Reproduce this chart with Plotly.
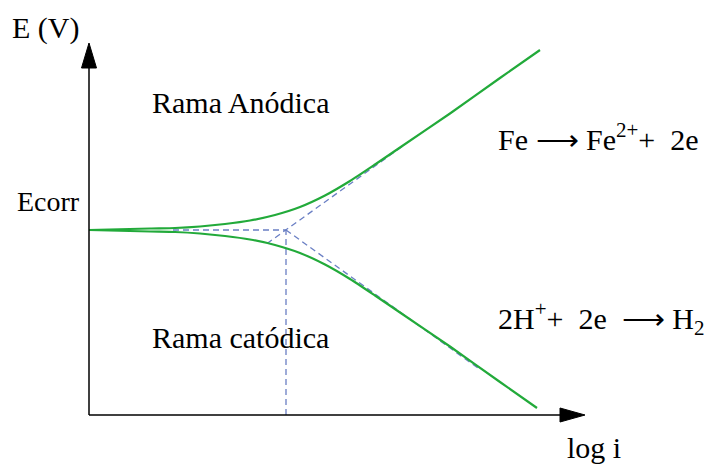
import plotly.graph_objects as go

# Evans diagram: potential E vs log i, in arbitrary units
log_i = [0.00, 1.22, 1.72, 2.22, 2.72, 3.22, 3.72, 4.22, 4.72, 5.22, 5.72, 6.22, 7.22, 8.22, 9.02]
E_anodic = [3.70, 3.73, 3.74, 3.77, 3.82, 3.89, 4.00, 4.16, 4.39, 4.68, 5.01, 5.35, 6.03, 6.74, 7.30]
log_i_cat = [0.00, 1.22, 1.72, 2.22, 2.72, 3.22, 3.72, 4.22, 4.72, 5.22, 5.72, 6.22, 7.22, 8.22, 8.96]
E_cathodic = [3.70, 3.67, 3.66, 3.63, 3.58, 3.51, 3.40, 3.24, 3.01, 2.72, 2.39, 2.05, 1.37, 0.66, 0.14]

# Corrosion point and Tafel extrapolations
E_corr = 3.70
log_icorr = 3.94
tafel_a_x = [3.56, 6.32]
tafel_a_E = [3.43, 5.41]
tafel_c_x = [3.94, 7.82]
tafel_c_E = [3.70, 0.91]
ecorr_line_x = [1.68, 3.94]

# Axis extents
x_axis_end, x_arrow_tip = 9.42, 9.92
y_axis_end, y_arrow_tip = 6.94, 7.44

W, H = 708, 464
GREEN = "#22aa3a"
BLUE = "#6a7fc4"
FONT = "Liberation Serif, Times New Roman, serif"

fig = go.Figure()

dash = dict(color=BLUE, width=1.3, dash="6px,4px")
fig.add_trace(go.Scatter(x=ecorr_line_x, y=[E_corr, E_corr], mode="lines", line=dash))
fig.add_trace(go.Scatter(x=[log_icorr, log_icorr], y=[0, E_corr], mode="lines", line=dash))
fig.add_trace(go.Scatter(x=tafel_a_x, y=tafel_a_E, mode="lines", line=dash))
fig.add_trace(go.Scatter(x=tafel_c_x, y=tafel_c_E, mode="lines", line=dash))

fig.add_trace(go.Scatter(x=log_i, y=E_anodic, mode="lines",
                         line=dict(color=GREEN, width=2.2, shape="spline", smoothing=0.6)))
fig.add_trace(go.Scatter(x=log_i_cat, y=E_cathodic, mode="lines",
                         line=dict(color=GREEN, width=2.2, shape="spline", smoothing=0.6)))

# Axes with arrowheads
shapes = [
    dict(type="line", x0=0, y0=0, x1=0, y1=y_axis_end, line=dict(color="black", width=1.5)),
    dict(type="line", x0=0, y0=0, x1=x_axis_end, y1=0, line=dict(color="black", width=1.5)),
    dict(type="path", path=f"M 0,{y_arrow_tip} L -0.15,{y_axis_end} L 0.15,{y_axis_end} Z",
         fillcolor="black", line=dict(color="black", width=1)),
    dict(type="path", path=f"M {x_arrow_tip},0 L {x_axis_end},0.14 L {x_axis_end},-0.14 Z",
         fillcolor="black", line=dict(color="black", width=1)),
]


def label(text, px, py, size=30):
    return dict(text=text, x=px / W, y=1 - py / H, xref="paper", yref="paper",
                xanchor="left", yanchor="middle", showarrow=False,
                font=dict(family=FONT, size=size, color="black"))


annotations = [
    label("E (V)", 10, 28),
    label("Ecorr", 15, 202, size=28),
    label("Rama Anódica", 150, 102),
    label("Rama catódica", 150, 337),
    label("Fe ⟶ Fe<sup>2+</sup>+\u00a0 2e", 496, 137),
    label("2H<sup>+</sup>+\u00a0 2e\u00a0 ⟶ H<sub>2</sub>", 496, 318),
    label("log i", 565, 447),
]

fig.update_layout(
    width=W, height=H,
    margin=dict(l=0, r=0, t=0, b=0),
    paper_bgcolor="white", plot_bgcolor="white",
    showlegend=False,
    xaxis=dict(range=[-89 / 50, (W - 89) / 50], visible=False, fixedrange=True),
    yaxis=dict(range=[-(H - 415) / 50, 415 / 50], visible=False, fixedrange=True),
    shapes=shapes,
    annotations=annotations,
)

fig.write_html("out.html")
